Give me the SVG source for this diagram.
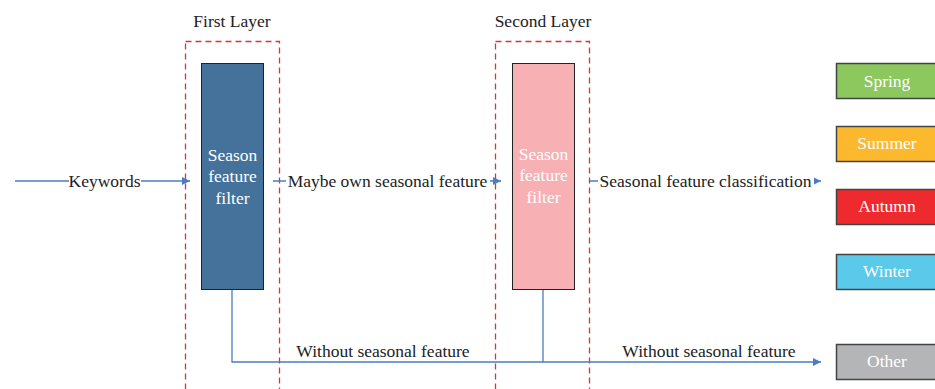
<svg xmlns="http://www.w3.org/2000/svg" width="935" height="389" viewBox="0 0 935 389">
<style>
.lbl{text-anchor:middle}
.wt{fill:#fff;text-anchor:middle}
.layer{fill:none;stroke:#e0303a;stroke-width:1.3;stroke-dasharray:6,4}
.conn{fill:none;stroke:#4a7cc4;stroke-width:1.3}
.bx{stroke:#222;stroke-width:1}
.sea{stroke:#444;stroke-width:1.5}
</style>
<defs>
<marker id="ah" viewBox="0 0 10 10" refX="10" refY="5" markerWidth="8" markerHeight="8" markerUnits="userSpaceOnUse" orient="auto"><path d="M0,0L10,5L0,10z" fill="#4a7cc4"/></marker>
</defs>
<g font-family="'Liberation Serif', 'DejaVu Serif', serif" font-size="17.5" fill="#222">
<g id="layer1"><rect class="layer" x="185.5" y="41.5" width="94" height="360"/><text class="lbl" x="232" y="27">First Layer</text></g>
<g id="layer2"><rect class="layer" x="495.5" y="41.5" width="94" height="360"/><text class="lbl" x="543" y="27">Second Layer</text></g>
<g id="connectors">
<path class="conn" d="M15,181H190" marker-end="url(#ah)"/>
<path class="conn" d="M273,181H501" marker-end="url(#ah)"/>
<path class="conn" d="M590,181H821" marker-end="url(#ah)"/>
<path class="conn" d="M232,289V362H821" marker-end="url(#ah)"/>
<path class="conn" d="M543,289V362"/>
</g>
<g id="kw"><rect x="69" y="172" width="72" height="18" fill="#fff"/><text class="lbl" x="104.5" y="187">Keywords</text></g>
<g id="maybe"><rect x="286" y="172" width="204" height="18" fill="#fff"/><text class="lbl" x="387.5" y="187">Maybe own seasonal feature</text></g>
<g id="sfc"><rect x="598" y="172" width="216" height="18" fill="#fff"/><text class="lbl" x="705.5" y="187">Seasonal feature classification</text></g>
<g id="w1"><text class="lbl" x="383" y="357">Without seasonal feature</text></g>
<g id="w2"><text class="lbl" x="709" y="357">Without seasonal feature</text></g>
<g id="filter1"><rect class="bx" x="201.5" y="63.5" width="62" height="226" fill="#44729a"/>
<text class="wt" x="232.5" y="161">Season</text><text class="wt" x="232.5" y="182">feature</text><text class="wt" x="232.5" y="204">filter</text></g>
<g id="filter2"><rect class="bx" x="512.5" y="63.5" width="62" height="226" fill="#f7b0b4"/>
<text class="wt" x="543.5" y="160">Season</text><text class="wt" x="543.5" y="181">feature</text><text class="wt" x="543.5" y="203">filter</text></g>
<g id="spring"><rect class="sea" x="836.5" y="63.5" width="100" height="35" fill="#8cc85e"/><text class="wt" x="887" y="87">Spring</text></g>
<g id="summer"><rect class="sea" x="836.5" y="126.5" width="100" height="35" fill="#fdb92e"/><text class="wt" x="887" y="149">Summer</text></g>
<g id="autumn"><rect class="sea" x="836.5" y="189.5" width="100" height="35" fill="#ee2a2f"/><text class="wt" x="887" y="212">Autumn</text></g>
<g id="winter"><rect class="sea" x="836.5" y="254.5" width="100" height="35" fill="#5bc9e9"/><text class="wt" x="887" y="277">Winter</text></g>
<g id="other"><rect class="sea" x="836.5" y="344.5" width="100" height="35" fill="#b4b5b7"/><text class="wt" x="887" y="367">Other</text></g>
</g>
</svg>
